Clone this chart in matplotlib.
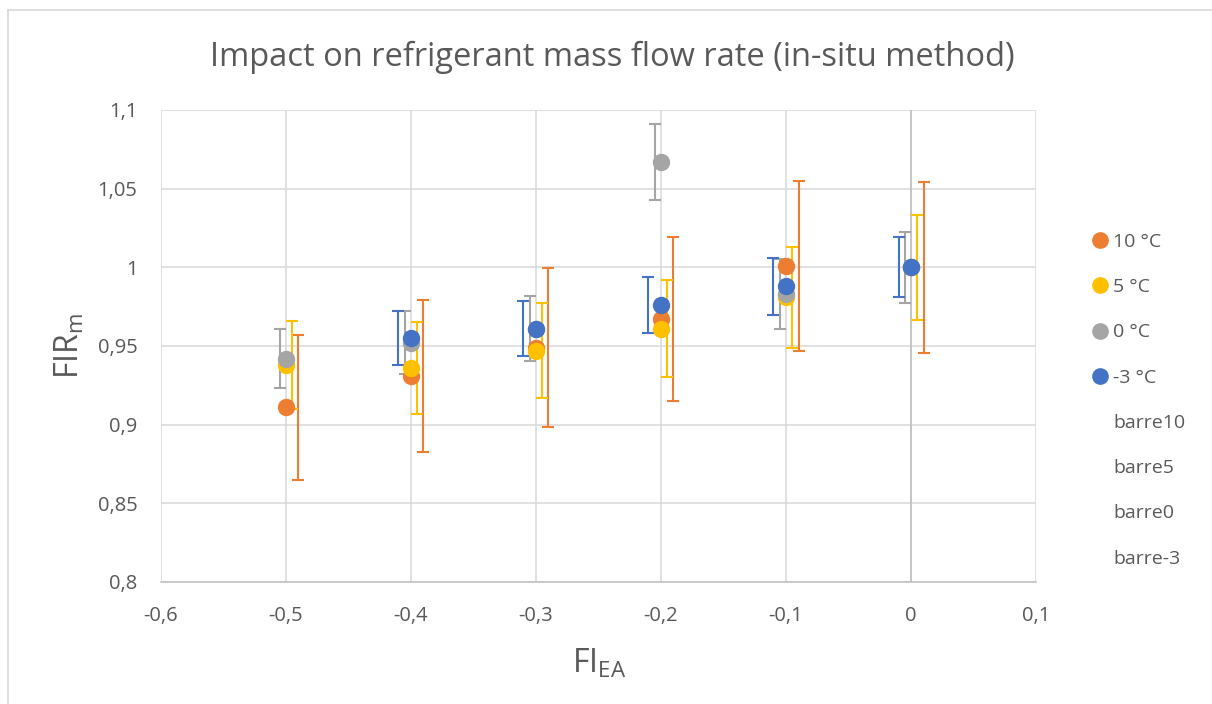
# -*- coding: utf-8 -*-
# Impact on refrigerant mass flow rate (in-situ method) - FIR_m vs FI_EA, excel style

import numpy as np
import matplotlib
matplotlib.use("Agg")
import matplotlib.pyplot as plt
from matplotlib.lines import Line2D

plt.rcParams['font.family'] = ['Open Sans', 'DejaVu Sans']
plt.rcParams['mathtext.fontset'] = 'custom'
plt.rcParams['mathtext.rm'] = 'Open Sans'

# Data ---------
fi_ea = [-0.5, -0.4, -0.3, -0.2, -0.1, 0.0]

fir_10 = [0.911, 0.931, 0.949, 0.967, 1.001, 1.000]
fir_5 = [0.938, 0.936, 0.947, 0.961, 0.981, 1.000]
fir_0 = [0.942, 0.952, 0.961, 1.067, 0.983, 1.000]
fir_m3 = [np.nan, 0.955, 0.961, 0.976, 0.988, 1.000]

err_10 = [0.046, 0.0485, 0.0505, 0.052, 0.054, 0.0545]
err_5 = [0.028, 0.029, 0.030, 0.031, 0.032, 0.0335]
err_0 = [0.019, 0.020, 0.0205, 0.024, 0.022, 0.0225]
err_m3 = [np.nan, 0.017, 0.0173, 0.018, 0.018, 0.019]

labels_pts = ['10 °C', '5 °C', '0 °C', '-3 °C']
labels_bars = ['barre10', 'barre5', 'barre0', 'barre-3']

x_ticks = [-0.6, -0.5, -0.4, -0.3, -0.2, -0.1, 0.0, 0.1]
x_ticklabels = ['-0,6', '-0,5', '-0,4', '-0,3', '-0,2', '-0,1', '0', '0,1']
y_ticks = [0.8, 0.85, 0.9, 0.95, 1.0, 1.05, 1.1]
y_ticklabels = ['0,8', '0,85', '0,9', '0,95', '1', '1,05', '1,1']

# excel office colours
c_orange = '#ED7D31'
c_yellow = '#FFC000'
c_gray = '#A5A5A5'
c_blue = '#4472C4'
txt = '#595959'

series_y = [fir_10, fir_5, fir_0, fir_m3]
series_err = [err_10, err_5, err_0, err_m3]
colours = [c_orange, c_yellow, c_gray, c_blue]
bar_shift = [0.01, 0.005, -0.005, -0.01]   # the error bar series are slightly offset in x

fig = plt.figure(figsize=(12.12, 7.04), dpi=100)
ax = fig.add_axes([0.1328, 0.1733, 0.722, 0.6705])

x = np.array(fi_ea)
handles = []
for y, col, lab in zip(series_y, colours, labels_pts):
    ax.plot(x, y, 'o', color=col, markersize=11.5, zorder=3, linestyle='none')
    handles.append(Line2D([], [], marker='o', color=col, markersize=11, linestyle='none', label=lab))

for y, e, col, dx, lab in zip(series_y, series_err, colours, bar_shift, labels_bars):
    ax.errorbar(x + dx, y, yerr=e, fmt='none', ecolor=col, elinewidth=1.5,
                capsize=4.3, capthick=1.5, zorder=2)
    handles.append(Line2D([], [], linestyle='none', label=lab))

ax.set_xlim(-0.6, 0.1)
ax.set_ylim(0.8, 1.1)
ax.set_xticks(x_ticks)
ax.set_xticklabels(x_ticklabels)
ax.set_yticks(y_ticks)
ax.set_yticklabels(y_ticklabels)
ax.tick_params(length=0, labelsize=14.5, labelcolor=txt)
ax.tick_params(axis='x', pad=17)
ax.tick_params(axis='y', pad=17)

ax.grid(True, color='#D9D9D9', linewidth=1.1, zorder=0)
ax.set_axisbelow(True)
for s in ['top', 'right', 'left']:
    ax.spines[s].set_visible(False)
ax.spines['bottom'].set_color('#BFBFBF')
ax.spines['bottom'].set_linewidth(1.1)
ax.axvline(0, color='#BFBFBF', linewidth=1.1, zorder=1)

fig.text(0.505, 0.906, 'Impact on refrigerant mass flow rate (in-situ method)',
         ha='center', va='baseline', fontsize=23.5, color=txt)
fig.text(0.494, 0.045, r'$\mathrm{FI}_{\mathrm{EA}}$', ha='center', va='baseline',
         fontsize=23, color=txt)
fig.text(0.058, 0.508, r'$\mathrm{FIR}_{\mathrm{m}}$', ha='center', va='center',
         rotation=90, fontsize=23, color=txt)

leg = fig.legend(handles=handles, loc='upper left', bbox_to_anchor=(0.901, 0.669),
                 frameon=False, fontsize=14, labelcolor=txt, handlelength=0.8,
                 handletextpad=0.3, labelspacing=1.4, borderpad=0, borderaxespad=0)

# outer chart border (only left and top are in the shot)
fig.add_artist(Line2D([8 / 1212, 8 / 1212], [0, 1 - 10 / 704], color='#D9D9D9', linewidth=1.2))
fig.add_artist(Line2D([8 / 1212, 1], [1 - 10 / 704, 1 - 10 / 704], color='#D9D9D9', linewidth=1.2))

plt.savefig('out.png', dpi=100)
plt.close()
